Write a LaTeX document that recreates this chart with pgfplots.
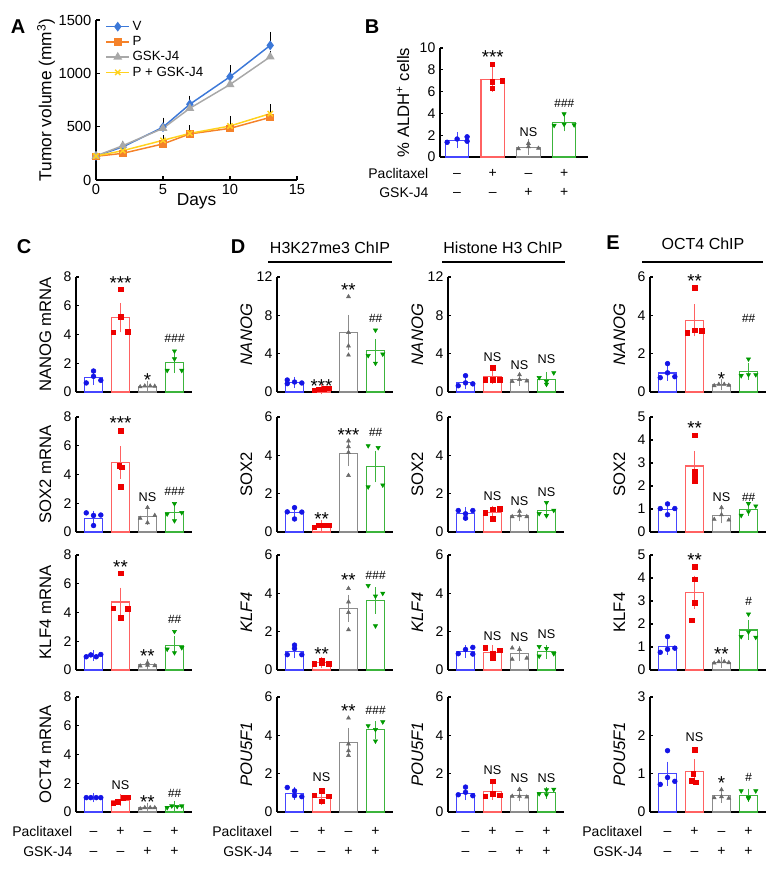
\documentclass[border=0pt]{standalone}
\usepackage{pgfplots}
\pgfplotsset{compat=1.18}
\usepackage{fontspec}
\setmainfont{Liberation Sans}
\newcommand{\fs}[1]{\fontsize{#1}{#1}\selectfont}
\definecolor{cb}{HTML}{4646FF}
\definecolor{cbp}{HTML}{1414E6}
\definecolor{cr}{HTML}{FF6262}
\definecolor{crp}{HTML}{EE0000}
\definecolor{cg}{HTML}{8C8C8C}
\definecolor{cgp}{HTML}{6A6A6A}
\definecolor{cn}{HTML}{3CB43C}
\definecolor{cnp}{HTML}{009A00}
\definecolor{aV}{HTML}{3C78D8}
\definecolor{aP}{HTML}{F5822A}
\definecolor{aG}{HTML}{A8A8A8}
\definecolor{aY}{HTML}{FFD21E}
\tikzset{ebcap/.style={mark size=3.5pt}}
\pgfplotsset{
 mB/.style={mark=*, mark size=1.8pt},
 mR/.style={mark=square*, mark size=1.7pt},
 mG/.style={mark=triangle*, mark size=1.7pt},
 mN/.style={mark=triangle*, mark size=1.8pt, mark options={rotate=180}},
 barax/.style={
  anchor=south west, scale only axis, width=87pt, height=86.25pt,
  xmin=0.35, xmax=4.65, ymin=0, clip=false,
  axis lines=left, axis line style={-, line width=0.9pt},
  xtick=\empty, tick align=inside, major tick length=2.5pt,
  every tick/.style={black, line width=0.8pt},
  /pgf/number format/assume math mode=true,
  yticklabel={\fs{10.5}\pgfmathprintnumber{\tick}},
  every axis y label/.style={at={(axis description cs:0,0.5)}, anchor=center, xshift=-23pt, rotate=90},
 },
}
\newcommand{\grp}[7]{%
 \addplot[ybar, bar shift=0pt, bar width=0.66, fill=white, draw=#4, line width=0.8pt,
   error bars/.cd, y dir=both, y explicit,
   error bar style={draw=#4, line width=0.8pt},
   error mark options={draw=#4, line width=0.8pt, /tikz/ebcap}]
   coordinates {(#1,#2) +- (0,#3)};
 \addplot[only marks, #6, color=#5] coordinates {#7};
}
\newcommand{\gB}[3]{\grp{1}{#1}{#2}{cb}{cbp}{mB}{#3}}
\newcommand{\gR}[3]{\grp{2}{#1}{#2}{cr}{crp}{mR}{#3}}
\newcommand{\gG}[3]{\grp{3}{#1}{#2}{cg}{cgp}{mG}{#3}}
\newcommand{\gN}[3]{\grp{4}{#1}{#2}{cn}{cnp}{mN}{#3}}
\newcommand{\aS}[3]{\node[inner sep=0pt, yshift=-2.7pt] at (axis cs:#1,#2) {\fs{14}#3};}
\newcommand{\aN}[2]{\node[inner sep=0pt] at (axis cs:#1,#2) {\fs{9.5}NS};}
\newcommand{\aH}[3]{\node[inner sep=0pt] at (axis cs:#1,#2) {\fs{9}\itshape #3};}
\newcommand{\yl}[1]{\fs{12.5}#1}
\newcommand{\signs}[2]{%
 \node[anchor=base, yshift=#1] at (axis cs:1,0) {\fs{10.5}–};
 \node[anchor=base, yshift=#1] at (axis cs:2,0) {\fs{10.5}+};
 \node[anchor=base, yshift=#1] at (axis cs:3,0) {\fs{10.5}–};
 \node[anchor=base, yshift=#1] at (axis cs:4,0) {\fs{10.5}+};
 \node[anchor=base, yshift=#2] at (axis cs:1,0) {\fs{10.5}–};
 \node[anchor=base, yshift=#2] at (axis cs:2,0) {\fs{10.5}–};
 \node[anchor=base, yshift=#2] at (axis cs:3,0) {\fs{10.5}+};
 \node[anchor=base, yshift=#2] at (axis cs:4,0) {\fs{10.5}+};
}
\begin{document}
\begin{tikzpicture}[x=0.75pt, y=0.75pt]
\useasboundingbox (0,0) rectangle (781,877);

% ---------------- Panel A
\begin{axis}[at={(72pt,522.75pt)}, anchor=south west, scale only axis, width=150.75pt, height=120pt,
  xmin=0, xmax=15, ymin=0, ymax=1500, xtick={0,5,10,15}, ytick={0,500,1000,1500},
  axis lines=left, axis line style={-, line width=0.9pt}, tick align=inside, major tick length=3pt,
  every tick/.style={black, line width=0.8pt},
  /pgf/number format/assume math mode=true, /pgf/number format/1000 sep={},
  yticklabel={\fs{11}\pgfmathprintnumber{\tick}},
  xticklabel={\fs{11}\pgfmathprintnumber{\tick}},
  xlabel={\fs{13}Days}, ylabel={\fs{13}Tumor volume (mm\textsuperscript{3})},
  every axis y label/.style={at={(axis description cs:0,0.5)}, anchor=center, xshift=-37.5pt, rotate=90},
  every axis x label/.style={at={(axis description cs:0.5,0)}, anchor=center, yshift=-16pt},
  legend style={at={(axis description cs:0.04,1.02)}, anchor=north west, draw=none, fill=none, row sep=-1pt, inner sep=1pt},
  legend cell align=left]
\addplot[aV, line width=1.1pt, mark=diamond*, mark size=2.8pt,
  error bars/.cd, y dir=plus, y explicit, error bar style={black, line width=0.6pt}, error mark options={black, mark size=2.5pt, line width=0.6pt}]
  coordinates {(0,225) +- (0,10) (2,310) +- (0,15) (5,495) +- (0,58) (7,710) +- (0,50) (10,968) +- (0,75) (13,1262) +- (0,95)};
\addlegendentry{\fs{10}V}
\addplot[aP, line width=1.1pt, mark=square*, mark size=2.3pt,
  error bars/.cd, y dir=plus, y explicit, error bar style={black, line width=0.6pt}, error mark options={black, mark size=2.5pt, line width=0.6pt}]
  coordinates {(0,222) +- (0,8) (2,250) +- (0,10) (5,338) +- (0,15) (7,432) +- (0,20) (10,484) +- (0,25) (13,587) +- (0,25)};
\addlegendentry{\fs{10}P}
\addplot[aG, line width=1.1pt, mark=triangle*, mark size=2.8pt,
  error bars/.cd, y dir=plus, y explicit, error bar style={black, line width=0.6pt}, error mark options={black, mark size=2.5pt, line width=0.6pt}]
  coordinates {(0,225) +- (0,10) (2,322) +- (0,15) (5,484) +- (0,20) (7,672) +- (0,25) (10,895) +- (0,15) (13,1155) +- (0,20)};
\addlegendentry{\fs{10}GSK-J4}
\addplot[aY, line width=1.1pt, mark=x, mark size=2.8pt,
  error bars/.cd, y dir=plus, y explicit, error bar style={black, line width=0.6pt}, error mark options={black, mark size=2.5pt, line width=0.6pt}]
  coordinates {(0,225) +- (0,10) (2,275) +- (0,10) (5,372) +- (0,15) (7,437) +- (0,45) (10,506) +- (0,63) (13,622) +- (0,58)};
\addlegendentry{\fs{10}P + GSK-J4}
\end{axis}

% ---------------- Panel B
\begin{axis}[barax, at={(330pt,540pt)}, width=111pt, height=81.75pt, xmin=0.52, xmax=4.67,
  ymax=10, ytick={0,2,4,6,8,10}, /tikz/ebcap/.style={mark size=5pt},
  every axis y label/.style={at={(axis description cs:0,0.5)}, anchor=center, xshift=-27.75pt, rotate=90},
  ylabel={\yl{\% ALDH\textsuperscript{+} cells}}]
\gB{1.55}{0.12}{(0.72,1.35)(1.0,1.65)(1.28,1.85)(1.28,1.45)}
\gR{7.1}{0.5}{(1.98,8.5)(1.98,6.9)(1.98,6.3)(2.27,7.0)}
\gG{0.9}{0.12}{(2.72,0.75)(3.0,1.25)(3.0,0.95)(3.28,0.8)}
\gN{3.2}{0.25}{(3.72,2.9)(4.0,3.95)(4.0,3.0)(4.28,2.95)}
\aS{2}{9.5}{***}\aN{3}{2.3}\aH{4}{4.95}{\#\#\#}
\signs{-15.75pt}{-30pt}
\end{axis}

% ---------------- Panel C
\begin{axis}[barax, at={(57pt,363.75pt)}, ymax=8, ytick={0,2,4,6,8}, ylabel={\yl{NANOG mRNA}}]
\gB{1.0}{0.18}{(0.73,0.63)(1.0,1.46)(1.0,1.09)(1.27,0.81)}
\gR{5.17}{0.7}{(1.73,4.15)(2.0,7.15)(2.0,5.22)(2.27,4.2)}
\gG{0.4}{0.03}{(2.73,0.36)(2.9,0.42)(3.1,0.42)(3.27,0.4)}
\gN{2.02}{0.35}{(3.73,1.5)(4.0,2.85)(4.0,2.3)(4.27,1.5)}
\aS{2}{7.8}{***}\aS{3}{1.05}{*}\aH{4}{3.7}{\#\#\#}
\end{axis}
\begin{axis}[barax, at={(57pt,258.75pt)}, ymax=8, ytick={0,2,4,6,8}, ylabel={\yl{SOX2 mRNA}}]
\gB{0.97}{0.2}{(0.73,1.33)(1.0,0.45)(1.0,1.15)(1.27,1.18)}
\gR{4.83}{0.8}{(2.0,7.05)(1.95,4.6)(2.05,4.5)(2.0,3.15)}
\gG{1.11}{0.28}{(2.73,0.95)(3.0,1.7)(3.0,0.65)(3.27,1.15)}
\gN{1.35}{0.27}{(3.73,1.25)(4.0,1.97)(4.0,0.78)(4.27,1.35)}
\aS{2}{7.8}{***}\aN{3}{2.45}\aH{4}{2.8}{\#\#\#}
\end{axis}
\begin{axis}[barax, at={(57pt,155.25pt)}, ymax=8, ytick={0,2,4,6,8}, ylabel={\yl{KLF4 mRNA}}]
\gB{1.0}{0.05}{(0.73,0.92)(0.9,1.05)(1.1,0.92)(1.27,1.08)}
\gR{4.73}{0.68}{(1.73,4.3)(2.0,6.72)(2.0,3.65)(2.27,4.25)}
\gG{0.35}{0.08}{(2.73,0.28)(3.0,0.5)(3.0,0.33)(3.27,0.3)}
\gN{1.72}{0.32}{(3.73,1.45)(4.0,2.68)(4.0,1.2)(4.27,1.55)}
\aS{2}{7.4}{**}\aS{3}{1.2}{**}\aH{4}{3.5}{\#\#}
\end{axis}
\begin{axis}[barax, at={(57pt,48.75pt)}, ymax=8, ytick={0,2,4,6,8}, ylabel={\yl{OCT4 mRNA}}]
\gB{1.0}{0.01}{(0.73,1.0)(0.9,1.0)(1.1,1.0)(1.27,1.0)}
\gR{0.83}{0.1}{(1.73,0.6)(1.9,0.72)(2.1,0.98)(2.27,1.02)}
\gG{0.28}{0.03}{(2.73,0.22)(2.9,0.3)(3.1,0.3)(3.27,0.3)}
\gN{0.38}{0.05}{(3.73,0.3)(3.9,0.42)(4.1,0.38)(4.27,0.42)}
\aN{2}{1.9}\aS{3}{0.95}{**}\aH{4}{1.3}{\#\#}
\signs{-18pt}{-33pt}
\end{axis}

% ---------------- Panel D left (H3K27me3)
\begin{axis}[barax, at={(207.75pt,363.75pt)}, ymax=12, ytick={0,4,8,12}, ylabel={\yl{\itshape NANOG}}]
\gB{1.0}{0.1}{(0.73,1.25)(0.73,0.87)(1.0,1.04)(1.27,0.94)}
\gR{0.3}{0.05}{(1.73,0.2)(1.9,0.3)(2.1,0.35)(2.27,0.4)}
\gG{6.2}{1.35}{(3.0,9.95)(3.0,6.2)(3.0,4.8)(3.0,3.85)}
\gN{4.3}{0.75}{(4.0,6.45)(3.73,3.8)(4.0,3.0)(4.27,3.95)}
\aS{2}{1.0}{***}\aS{3}{11.0}{**}\aH{4}{7.7}{\#\#}
\end{axis}
\begin{axis}[barax, at={(207.75pt,258.75pt)}, ymax=6, ytick={0,2,4,6}, ylabel={\yl{SOX2}}]
\gB{1.01}{0.13}{(0.73,1.05)(1.0,1.27)(1.0,0.68)(1.27,1.04)}
\gR{0.33}{0.03}{(1.73,0.25)(1.9,0.35)(2.1,0.35)(2.27,0.35)}
\gG{4.08}{0.4}{(3.0,4.75)(3.0,4.45)(3.0,4.15)(3.0,2.95)}
\gN{3.42}{0.58}{(3.73,4.5)(4.1,4.4)(3.73,2.35)(4.27,2.45)}
\aS{2}{0.85}{**}\aS{3}{5.25}{***}\aH{4}{5.2}{\#\#}
\end{axis}
\begin{axis}[barax, at={(207.75pt,155.25pt)}, ymax=6, ytick={0,2,4,6}, ylabel={\yl{\itshape KLF4}}]
\gB{0.97}{0.12}{(0.73,0.8)(1.0,1.12)(1.0,1.3)(1.27,0.8)}
\gR{0.38}{0.05}{(1.73,0.32)(2.0,0.48)(2.0,0.38)(2.27,0.33)}
\gG{3.22}{0.45}{(3.0,4.25)(3.0,3.55)(3.0,3.0)(3.0,2.1)}
\gN{3.62}{0.45}{(3.73,4.4)(4.0,3.85)(4.27,4.0)(4.0,2.3)}
\aS{2}{1.0}{**}\aS{3}{4.88}{**}\aH{4}{4.95}{\#\#\#}
\end{axis}
\begin{axis}[barax, at={(207.75pt,48.75pt)}, ymax=6, ytick={0,2,4,6}, ylabel={\yl{\itshape POU5F1}}]
\gB{0.97}{0.1}{(0.73,1.28)(1.0,1.1)(1.0,0.85)(1.27,0.8)}
\gR{0.78}{0.15}{(1.73,0.87)(2.0,1.12)(2.0,0.55)(2.27,0.82)}
\gG{3.65}{0.5}{(3.0,4.9)(3.0,3.55)(3.0,3.2)(3.0,2.95)}
\gN{4.28}{0.22}{(3.73,4.5)(4.0,4.3)(4.27,4.7)(4.0,3.7)}
\aN{2}{1.8}\aS{3}{5.45}{**}\aH{4}{5.3}{\#\#\#}
\signs{-18pt}{-33pt}
\end{axis}

% ---------------- Panel D right (Histone H3)
\begin{axis}[barax, at={(336pt,363.75pt)}, ymax=12, ytick={0,4,8,12}, ylabel={\yl{\itshape NANOG}}]
\gB{0.98}{0.23}{(0.73,0.65)(1.0,1.7)(1.0,0.95)(1.27,0.85)}
\gR{1.62}{0.3}{(1.73,1.3)(2.0,2.5)(2.0,1.3)(2.27,1.3)}
\gG{1.3}{0.17}{(2.73,1.1)(3.0,1.8)(3.0,1.3)(3.27,1.15)}
\gN{1.33}{0.28}{(3.73,1.5)(4.0,0.8)(4.0,1.1)(4.27,2.0)}
\aN{2}{3.65}\aN{3}{2.85}\aN{4}{3.4}
\end{axis}
\begin{axis}[barax, at={(336pt,258.75pt)}, ymax=6, ytick={0,2,4,6}, ylabel={\yl{SOX2}}]
\gB{0.96}{0.1}{(0.73,1.12)(1.0,0.72)(1.0,0.95)(1.27,1.12)}
\gR{1.0}{0.13}{(1.73,1.0)(2.0,0.68)(2.0,1.18)(2.27,1.2)}
\gG{0.87}{0.07}{(2.73,0.8)(3.0,1.08)(3.0,0.85)(3.27,0.8)}
\gN{1.12}{0.14}{(3.73,0.96)(4.0,1.53)(4.0,0.85)(4.27,1.13)}
\aN{2}{1.85}\aN{3}{1.6}\aN{4}{2.1}
\end{axis}
\begin{axis}[barax, at={(336pt,155.25pt)}, ymax=6, ytick={0,2,4,6}, ylabel={\yl{\itshape KLF4}}]
\gB{0.96}{0.08}{(0.73,0.85)(1.0,1.07)(1.27,1.18)(1.27,0.83)}
\gR{0.92}{0.12}{(1.73,1.17)(2.0,0.65)(2.0,0.85)(2.27,1.04)}
\gG{0.87}{0.14}{(2.73,1.15)(3.0,1.07)(2.73,0.56)(3.27,0.62)}
\gN{0.95}{0.12}{(3.73,1.22)(4.0,1.12)(3.73,0.72)(4.27,0.85)}
\aN{2}{1.78}\aN{3}{1.74}\aN{4}{1.86}
\end{axis}
\begin{axis}[barax, at={(336pt,48.75pt)}, ymax=6, ytick={0,2,4,6}, ylabel={\yl{\itshape POU5F1}}]
\gB{0.96}{0.1}{(0.73,0.9)(1.0,1.3)(1.0,1.03)(1.27,0.85)}
\gR{1.06}{0.18}{(1.73,0.82)(2.0,1.6)(2.0,0.95)(2.27,0.87)}
\gG{0.88}{0.08}{(2.73,0.82)(3.0,1.18)(3.0,0.82)(3.27,0.78)}
\gN{1.0}{0.06}{(3.73,0.95)(4.0,1.15)(4.27,1.18)(4.0,0.9)}
\aN{2}{2.16}\aN{3}{1.78}\aN{4}{1.78}
\signs{-18pt}{-33pt}
\end{axis}

% ---------------- Panel E (OCT4 ChIP)
\begin{axis}[barax, at={(487.5pt,363.75pt)}, ymax=6, ytick={0,2,4,6}, ylabel={\yl{\itshape NANOG}}]
\gB{0.99}{0.16}{(0.73,0.75)(1.0,1.0)(1.0,1.48)(1.27,0.8)}
\gR{3.74}{0.6}{(1.73,3.1)(2.0,5.45)(2.0,3.22)(2.27,3.2)}
\gG{0.37}{0.04}{(2.73,0.33)(2.9,0.4)(3.1,0.4)(3.27,0.35)}
\gN{1.08}{0.2}{(3.73,0.85)(4.0,1.72)(4.0,0.9)(4.27,0.9)}
\aS{2}{6.0}{**}\aS{3}{0.87}{*}\aH{4}{3.83}{\#\#}
\end{axis}
\begin{axis}[barax, at={(487.5pt,258.75pt)}, ymax=5, ytick={0,1,2,3,4,5}, ylabel={\yl{SOX2}}]
\gB{0.99}{0.1}{(0.73,1.02)(1.0,1.22)(1.0,0.75)(1.27,1.02)}
\gR{2.87}{0.45}{(2.0,4.2)(2.0,2.65)(2.0,2.4)(2.0,2.2)}
\gG{0.7}{0.12}{(2.73,0.55)(3.0,1.06)(3.0,0.75)(3.27,0.52)}
\gN{0.99}{0.1}{(3.73,0.72)(4.0,0.88)(4.0,1.23)(4.27,1.13)}
\aS{2}{4.68}{**}\aN{3}{1.52}\aH{4}{1.5}{\#\#}
\end{axis}
\begin{axis}[barax, at={(487.5pt,155.25pt)}, ymax=5, ytick={0,1,2,3,4,5}, ylabel={\yl{KLF4}}]
\gB{1.01}{0.15}{(0.73,0.77)(1.0,1.45)(1.0,0.9)(1.27,0.95)}
\gR{3.38}{0.52}{(2.0,4.48)(2.0,3.95)(2.0,2.92)(1.9,2.17)}
\gG{0.33}{0.03}{(2.73,0.3)(2.9,0.36)(3.1,0.36)(3.27,0.32)}
\gN{1.74}{0.23}{(3.73,1.45)(4.0,2.43)(4.0,1.65)(4.27,1.42)}
\aS{2}{4.93}{**}\aS{3}{0.84}{**}\aH{4}{2.97}{\#}
\end{axis}
\begin{axis}[barax, at={(487.5pt,48.75pt)}, ymax=3, ytick={0,1,2,3}, ylabel={\yl{\itshape POU5F1}}]
\gB{1.0}{0.19}{(1.0,1.6)(1.0,0.9)(0.73,0.72)(1.27,0.8)}
\gR{1.05}{0.2}{(2.0,1.62)(1.95,1.0)(1.9,0.82)(2.05,0.78)}
\gG{0.42}{0.06}{(3.0,0.58)(2.73,0.37)(3.0,0.4)(3.27,0.36)}
\gN{0.44}{0.05}{(3.73,0.55)(4.0,0.38)(4.27,0.55)(4.0,0.35)}
\aN{2}{1.94}\aS{3}{0.86}{*}\aH{4}{0.9}{\#}
\signs{-18pt}{-33pt}
\end{axis}

% ---------------- Texts
\node at (18,850) {\fs{15}\bfseries A};
\node at (372,850) {\fs{15}\bfseries B};
\node at (24,630) {\fs{15}\bfseries C};
\node at (238,630) {\fs{15}\bfseries D};
\node at (613,634) {\fs{15}\bfseries E};
\node at (330,629) {\fs{12}H3K27me3 ChIP};
\draw[line width=0.9pt] (268,615) -- (392,615);
\node at (503,629) {\fs{12}Histone H3 ChIP};
\draw[line width=0.9pt] (442,615) -- (565,615);
\node at (703,633) {\fs{12}OCT4 ChIP};
\draw[line width=0.9pt] (642,615) -- (763,615);
\node[anchor=base east] at (433,698) {\fs{10.5}Paclitaxel};
\node[anchor=base east] at (433,679) {\fs{10.5}GSK-J4};
\node[anchor=base east] at (77,40) {\fs{10.5}Paclitaxel};
\node[anchor=base east] at (77,20) {\fs{10.5}GSK-J4};
\node[anchor=base east] at (277,40) {\fs{10.5}Paclitaxel};
\node[anchor=base east] at (277,20) {\fs{10.5}GSK-J4};
\node[anchor=base east] at (647,40) {\fs{10.5}Paclitaxel};
\node[anchor=base east] at (647,20) {\fs{10.5}GSK-J4};
\end{tikzpicture}
\end{document}
